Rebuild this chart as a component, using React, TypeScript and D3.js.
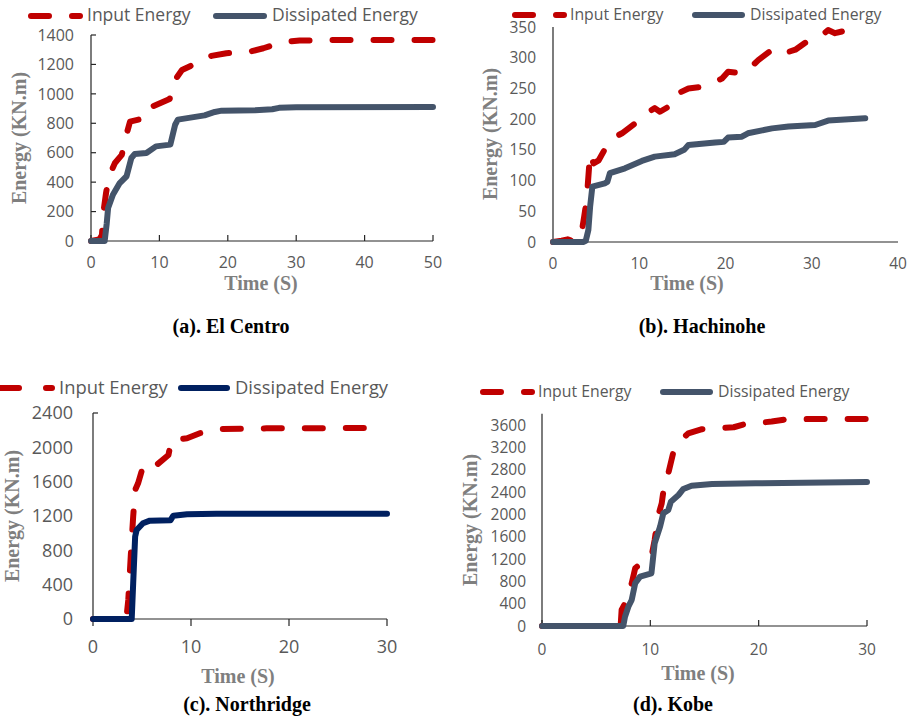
import React from "react";
import * as d3 from "d3";

// ---------- Data ----------
const seriesNames = ["Input Energy", "Dissipated Energy"];

// (a) El Centro
const elCentroInputT = [0, 1.2, 1.6, 1.8, 2.2, 2.6, 3.5, 4.5, 5.1, 5.7, 8.3, 8.9, 11.5, 12.1, 13.3, 15.4, 17.6, 19.8, 23.2, 25.2, 27.9, 30.5, 35, 50];
const elCentroInputE = [0, 10, 40, 190, 326, 437, 530, 585, 709, 811, 840, 913, 965, 1083, 1162, 1208, 1258, 1276, 1287, 1310, 1351, 1362, 1366, 1366];
const elCentroDissT = [0, 2.0, 2.3, 2.5, 3.2, 4.2, 5.2, 5.9, 6.4, 8.1, 9.5, 11.6, 12.3, 12.7, 16.6, 18.1, 19.1, 24.0, 26.5, 27.5, 30, 50];
const elCentroDissE = [0, 0, 120, 224, 315, 394, 440, 564, 591, 598, 643, 655, 790, 825, 854, 877, 886, 888, 895, 905, 909, 910];

// (b) Hachinohe
const hachiInputT = [0, 1.0, 1.7, 2.2, 3.0, 3.3, 3.6, 3.9, 4.3, 4.7, 5.3, 6.4, 7.2, 8.0, 9.5, 10.3, 11.8, 12.4, 14.1, 14.5, 15.7, 16.9, 18.4, 19.6, 20.3, 21.7, 23.0, 23.8, 25.4, 26.5, 28.1, 29.2, 31.2, 31.9, 32.7, 34.2, 35.6];
const hachiInputE = [0, 2, 4.4, 2, 3, 14, 40, 68, 144, 128, 133, 161, 171, 177, 193, 205, 218, 212, 226, 242, 250, 252, 259, 266, 277, 275, 285.5, 296, 313, 306, 313, 324, 337, 345, 340, 345, 350];
const hachiDissT = [0, 3.5, 3.8, 4.1, 4.3, 4.56, 6.0, 6.3, 6.6, 8.35, 10.3, 11.8, 14.1, 15.2, 15.7, 18.8, 19.8, 20.3, 21.9, 22.6, 25.4, 27.3, 30.4, 31.9, 36.2];
const hachiDissE = [0, 0, 2, 19.5, 57, 90, 95.6, 98, 112, 120, 132, 139, 143, 150, 158, 162, 163, 170, 171.5, 177, 185, 188, 190.5, 197.6, 201.5];

// (c) Northridge
const northInputT = [0, 3.4, 3.6, 3.85, 4.1, 4.3, 4.6, 5.1, 5.8, 6.5, 7.7, 8.0, 9.6, 10.9, 13.0, 17.7, 28];
const northInputE = [0, 0, 221, 726, 1192, 1503, 1581, 1775, 1833, 1795, 1911, 2086, 2106, 2164, 2214, 2221, 2225];
const northDissT = [0, 3.95, 4.1, 4.3, 4.45, 5.1, 5.8, 7.9, 8.2, 9.6, 12.6, 30];
const northDissE = [0, 0, 416, 959, 1037, 1115, 1146, 1150, 1204, 1220, 1227, 1227];

// (d) Kobe
const kobeInputT = [0, 7.26, 7.35, 7.66, 8.28, 8.6, 9.5, 10.1, 10.4, 10.7, 11.05, 11.35, 11.66, 12.1, 12.7, 13.5, 14.7, 15.7, 17.7, 18.7, 21.2, 22.7, 30];
const kobeInputE = [0, 0, 287, 406, 764, 1033, 1182, 1241, 1540, 1958, 2197, 2615, 2735, 3093, 3301, 3451, 3523, 3541, 3559, 3613, 3661, 3704, 3707];
const kobeDissT = [0, 7.5, 7.66, 7.97, 8.28, 8.6, 9.05, 10.1, 10.4, 10.9, 11.2, 11.66, 11.9, 12.6, 13.05, 13.8, 15.7, 19.7, 30];
const kobeDissE = [0, 0, 167, 346, 466, 764, 884, 944, 1481, 1779, 2018, 2078, 2227, 2346, 2454, 2513, 2543, 2555, 2579];

// Axis tick values
const ticksXa = [0, 10, 20, 30, 40, 50];
const ticksYa = [0, 200, 400, 600, 800, 1000, 1200, 1400];
const ticksXb = [0, 10, 20, 30, 40];
const ticksYb = [0, 50, 100, 150, 200, 250, 300, 350];
const ticksXc = [0, 10, 20, 30];
const ticksYc = [0, 400, 800, 1200, 1600, 2000, 2400];
const ticksXd = [0, 10, 20, 30];
const ticksYd = [0, 400, 800, 1200, 1600, 2000, 2400, 2800, 3200, 3600];

const captions = ["(a). El Centro", "(b). Hachinohe", "(c). Northridge", "(d). Kobe"];
const xTitle = "Time (S)";
const yTitle = "Energy (KN.m)";

// ---------- Styles ----------
const RED = "#C00000";
const SLATE = "#44546A";
const NAVY = "#002060";
const TICK_COL = "#595959";
const TITLE_COL = "#7F7F7F";
const AXIS_COL = "#262626";
const SANS = "'Open Sans', 'DejaVu Sans', sans-serif";
const SERIF = "'Liberation Serif', 'Times New Roman', serif";
const DASH = "18,23";

type PanelCfg = {
  inT: number[]; inE: number[]; dT: number[]; dE: number[];
  xDom: [number, number]; yDom: [number, number];
  xTicks: number[]; yTicks: number[];
  x0: number; x1: number; y0: number; y1: number;
  tickFont: number; yLabRight: number; xLabBase: number;
  xTitleX: number; xTitleBase: number; yTitleX: number; yTitleY: number;
  legY: number; legBase: number; legFont: number;
  legRed: [number, number]; legRedDash: string; legRedText: number; legDiss: [number, number]; legDissText: number;
  dissColor: string;
  xTickMode: "in" | "out" | "none"; yTickMode: "all" | "top" | "none";
  caption: string; capX: number; capBase: number;
};

const panels: PanelCfg[] = [
  {
    inT: elCentroInputT, inE: elCentroInputE, dT: elCentroDissT, dE: elCentroDissE,
    xDom: [0, 50], yDom: [0, 1400], xTicks: ticksXa, yTicks: ticksYa,
    x0: 91, x1: 433, y0: 241, y1: 35,
    tickFont: 16, yLabRight: 74, xLabBase: 268,
    xTitleX: 261, xTitleBase: 290, yTitleX: 26, yTitleY: 138,
    legY: 16, legBase: 21, legFont: 17.5,
    legRed: [31, 80], legRedDash: DASH, legRedText: 87, legDiss: [216, 264], legDissText: 272,
    dissColor: SLATE, xTickMode: "in", yTickMode: "all",
    caption: captions[0], capX: 231, capBase: 333,
  },
  {
    inT: hachiInputT, inE: hachiInputE, dT: hachiDissT, dE: hachiDissE,
    xDom: [0, 40], yDom: [0, 350], xTicks: ticksXb, yTicks: ticksYb,
    x0: 553, x1: 898, y0: 242, y1: 27,
    tickFont: 15.5, yLabRight: 536, xLabBase: 269,
    xTitleX: 687, xTitleBase: 290, yTitleX: 497, yTitleY: 134,
    legY: 15, legBase: 20, legFont: 15.8,
    legRed: [515, 564], legRedDash: DASH, legRedText: 570, legDiss: [695, 742], legDissText: 750,
    dissColor: SLATE, xTickMode: "none", yTickMode: "none",
    caption: captions[1], capX: 702, capBase: 333,
  },
  {
    inT: northInputT, inE: northInputE, dT: northDissT, dE: northDissE,
    xDom: [0, 30], yDom: [0, 2400], xTicks: ticksXc, yTicks: ticksYc,
    x0: 93, x1: 387, y0: 619, y1: 413,
    tickFont: 18, yLabRight: 73, xLabBase: 653,
    xTitleX: 238, xTitleBase: 683, yTitleX: 19, yTitleY: 516,
    legY: 388, legBase: 394, legFont: 18.4,
    legRed: [0, 52], legRedDash: "19,27", legRedText: 59, legDiss: [181, 227], legDissText: 235,
    dissColor: NAVY, xTickMode: "out", yTickMode: "top",
    caption: captions[2], capX: 247, capBase: 711,
  },
  {
    inT: kobeInputT, inE: kobeInputE, dT: kobeDissT, dE: kobeDissE,
    xDom: [0, 30], yDom: [0, 3800], xTicks: ticksXd, yTicks: ticksYd,
    x0: 542, x1: 867, y0: 626, y1: 413.8,
    tickFont: 15.5, yLabRight: 526, xLabBase: 655,
    xTitleX: 698, xTitleBase: 680, yTitleX: 477, yTitleY: 520,
    legY: 392, legBase: 397, legFont: 15.8,
    legRed: [483, 532], legRedDash: DASH, legRedText: 538, legDiss: [663, 710], legDissText: 718,
    dissColor: SLATE, xTickMode: "in", yTickMode: "none",
    caption: captions[3], capX: 673, capBase: 711,
  },
];

function Panel({ c }: { c: PanelCfg }) {
  const x = d3.scaleLinear().domain(c.xDom).range([c.x0, c.x1]);
  const y = d3.scaleLinear().domain(c.yDom).range([c.y0, c.y1]);
  const line = d3
    .line<[number, number]>()
    .x((d) => x(d[0]))
    .y((d) => y(d[1]))
    .curve(d3.curveLinear);
  const inPts = c.inT.map((t, i) => [t, c.inE[i]] as [number, number]);
  const dPts = c.dT.map((t, i) => [t, c.dE[i]] as [number, number]);

  return (
    <g>
      {/* axes */}
      <line x1={c.x0} x2={c.x0} y1={c.y0} y2={c.y1} stroke={AXIS_COL} strokeWidth={1.2} />
      <line x1={c.x0} x2={c.x1} y1={c.y0} y2={c.y0} stroke={AXIS_COL} strokeWidth={1.2} />
      {c.xTickMode !== "none" &&
        c.xTicks.map((t) => (
          <line
            key={"xt" + t}
            x1={x(t)}
            x2={x(t)}
            y1={c.y0}
            y2={c.xTickMode === "in" ? c.y0 - 6 : c.y0 + 7}
            stroke={AXIS_COL}
            strokeWidth={1.2}
          />
        ))}
      {c.yTickMode !== "none" &&
        (c.yTickMode === "all" ? c.yTicks : [c.yDom[1]]).map((t) => (
          <line key={"yt" + t} x1={c.x0} x2={c.x0 + 5} y1={y(t)} y2={y(t)} stroke={AXIS_COL} strokeWidth={1.2} />
        ))}
      {/* tick labels */}
      {c.xTicks.map((t) => (
        <text key={"xl" + t} x={x(t)} y={c.xLabBase} textAnchor="middle" fontFamily={SANS} fontSize={c.tickFont} fill={TICK_COL}>
          {t}
        </text>
      ))}
      {c.yTicks.map((t) => (
        <text key={"yl" + t} x={c.yLabRight} y={y(t)} dy="0.36em" textAnchor="end" fontFamily={SANS} fontSize={c.tickFont} fill={TICK_COL}>
          {t}
        </text>
      ))}
      {/* series */}
      <path d={line(inPts) || ""} fill="none" stroke={RED} strokeWidth={6} strokeDasharray={DASH} strokeLinecap="round" strokeLinejoin="round" />
      <path d={line(dPts) || ""} fill="none" stroke={c.dissColor} strokeWidth={6} strokeLinecap="round" strokeLinejoin="round" />
      {/* titles */}
      <text x={c.xTitleX} y={c.xTitleBase} textAnchor="middle" fontFamily={SERIF} fontWeight="bold" fontSize={20} fill={TITLE_COL}>
        {xTitle}
      </text>
      <text
        transform={`translate(${c.yTitleX},${c.yTitleY}) rotate(-90)`}
        textAnchor="middle"
        fontFamily={SERIF}
        fontWeight="bold"
        fontSize={20}
        fill={TITLE_COL}
      >
        {yTitle}
      </text>
      {/* legend */}
      <line
        x1={c.legRed[0]}
        x2={c.legRed[1]}
        y1={c.legY}
        y2={c.legY}
        stroke={RED}
        strokeWidth={6}
        strokeDasharray={c.legRedDash}
        strokeLinecap="round"
      />
      <text x={c.legRedText} y={c.legBase} fontFamily={SANS} fontSize={c.legFont} fill={TICK_COL}>
        {seriesNames[0]}
      </text>
      <line x1={c.legDiss[0]} x2={c.legDiss[1]} y1={c.legY} y2={c.legY} stroke={c.dissColor} strokeWidth={6} strokeLinecap="round" />
      <text x={c.legDissText} y={c.legBase} fontFamily={SANS} fontSize={c.legFont} fill={TICK_COL}>
        {seriesNames[1]}
      </text>
      {/* caption */}
      <text x={c.capX} y={c.capBase} textAnchor="middle" fontFamily={SERIF} fontWeight="bold" fontSize={20} fill="#000">
        {c.caption}
      </text>
    </g>
  );
}

export default function App() {
  return (
    <svg
      width={910}
      height={722}
      viewBox="0 0 910 722"
      style={{ position: "absolute", left: 0, top: 0, background: "#fff" }}
    >
      <rect x={0} y={0} width={910} height={722} fill="#fff" />
      {panels.map((p, i) => (
        <Panel key={i} c={p} />
      ))}
    </svg>
  );
}
